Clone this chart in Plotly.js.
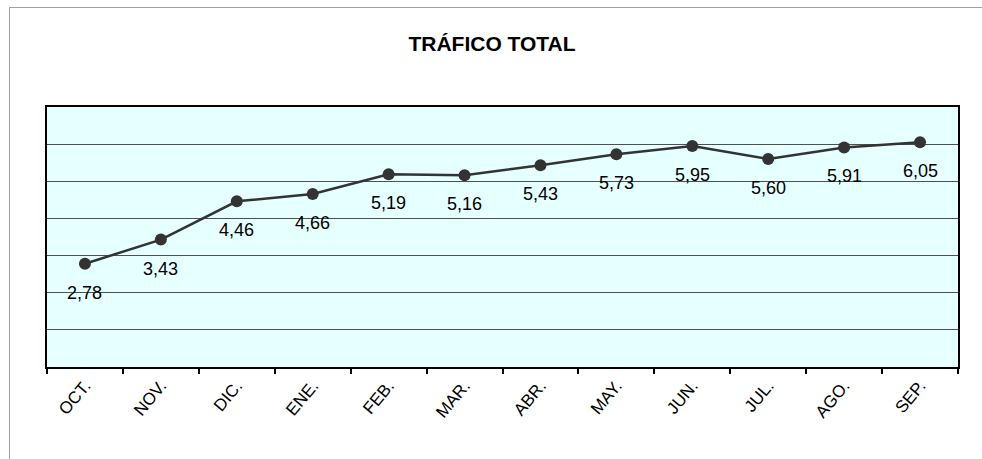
<!DOCTYPE html>
<html>
<head>
<meta charset="utf-8">
<script src="https://cdn.plot.ly/plotly-3.0.1.min.js"></script>
<style>
  html, body { margin: 0; padding: 0; background: #fff; }
  #wrap { position: relative; width: 982px; height: 459px; overflow: hidden; }
  #chart { position: absolute; left: 0; top: 0; width: 982px; height: 459px; }
  #frame { position: absolute; left: 9px; top: 7px; width: 990px; height: 470px;
           border-left: 1px solid #a0a0a0; border-top: 1px solid #a0a0a0; pointer-events: none; }
</style>
</head>
<body>
<div id="wrap">
  <div id="chart"></div>
  <div id="frame"></div>
</div>
<script>
const months = ["OCT.", "NOV.", "DIC.", "ENE.", "FEB.", "MAR.", "ABR.", "MAY.", "JUN.", "JUL.", "AGO.", "SEP."];
const traffic = [2.78, 3.43, 4.46, 4.66, 5.19, 5.16, 5.43, 5.73, 5.95, 5.60, 5.91, 6.05];
const chartTitle = "TRÁFICO TOTAL";

const fmt = v => v.toFixed(2).replace(".", ",");

const trace = {
  type: "scatter",
  mode: "lines+markers",
  x: months,
  y: traffic,
  line: { color: "#333333", width: 2.5 },
  marker: { color: "#333333", size: 12 },
  hoverinfo: "none"
};

const annotations = months.map((m, i) => ({
  x: m, y: traffic[i], xref: "x", yref: "y",
  text: fmt(traffic[i]), showarrow: false,
  yshift: -29,
  font: { family: "Liberation Sans, Arial, sans-serif", size: 18, color: "#000" }
}));

const layout = {
  width: 982, height: 459,
  margin: { l: 47, r: 24, t: 107, b: 92, pad: 0 },
  paper_bgcolor: "#ffffff",
  plot_bgcolor: "#e6ffff",
  showlegend: false,
  title: {
    text: "<b>" + chartTitle + "</b>",
    x: 492 / 982, xanchor: "center",
    y: 1 - 44 / 459, yanchor: "middle", yref: "container",
    font: { family: "Liberation Sans, Arial, sans-serif", size: 21, color: "#000" }
  },
  xaxis: {
    type: "category",
    range: [-0.5, months.length - 0.5],
    showgrid: false,
    showline: true, linecolor: "#000", linewidth: 2, mirror: true,
    ticks: "outside", tickson: "boundaries", ticklen: 5, tickwidth: 2, tickcolor: "#000",
    tickangle: -50,
    tickfont: { family: "Liberation Sans, Arial, sans-serif", size: 17, color: "#000" },
    zeroline: false
  },
  yaxis: {
    range: [0, 7], dtick: 1, tick0: 0,
    showgrid: true, gridcolor: "#505050", gridwidth: 1,
    showticklabels: false, ticks: "",
    showline: true, linecolor: "#000", linewidth: 2, mirror: true,
    zeroline: false, fixedrange: true
  },
  annotations: annotations
};

Plotly.newPlot("chart", [trace], layout, { displayModeBar: false, staticPlot: true });
</script>
</body>
</html>
